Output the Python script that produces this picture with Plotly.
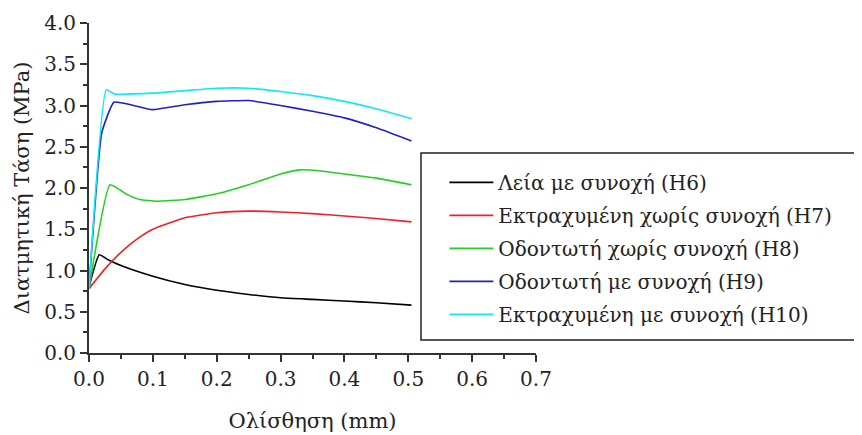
import plotly.graph_objects as go

names = ["Λεία με συνοχή (H6)", "Εκτραχυμένη χωρίς συνοχή (H7)", "Οδοντωτή χωρίς συνοχή (H8)",
         "Οδοντωτή με συνοχή (H9)", "Εκτραχυμένη με συνοχή (H10)"]
colors = ["#000000", "#f0202a", "#22d022", "#2020c8", "#10e8f8"]

h6_x = [0.0, 0.016, 0.03, 0.05, 0.1, 0.15, 0.2, 0.25, 0.3, 0.35, 0.4, 0.45, 0.505]
h6_y = [0.80, 1.19, 1.13, 1.06, 0.93, 0.83, 0.76, 0.71, 0.67, 0.65, 0.63, 0.61, 0.58]

h7_x = [0.0, 0.025, 0.05, 0.075, 0.1, 0.15, 0.2, 0.25, 0.3, 0.35, 0.4, 0.45, 0.505]
h7_y = [0.78, 1.02, 1.22, 1.38, 1.50, 1.64, 1.70, 1.72, 1.71, 1.69, 1.66, 1.63, 1.59]

h8_x = [0.0, 0.033, 0.06, 0.08, 0.106, 0.15, 0.2, 0.25, 0.3, 0.33, 0.36, 0.4, 0.45, 0.505]
h8_y = [0.78, 2.04, 1.92, 1.86, 1.84, 1.86, 1.93, 2.04, 2.17, 2.22, 2.21, 2.17, 2.12, 2.04]

h9_x = [0.0, 0.02, 0.039, 0.07, 0.099, 0.15, 0.2, 0.25, 0.3, 0.35, 0.4, 0.45, 0.505]
h9_y = [0.78, 2.67, 3.04, 3.00, 2.95, 3.01, 3.05, 3.06, 3.00, 2.93, 2.85, 2.73, 2.57]

h10_x = [0.0, 0.027, 0.04, 0.1, 0.15, 0.2, 0.25, 0.3, 0.35, 0.4, 0.45, 0.505]
h10_y = [0.78, 3.19, 3.14, 3.15, 3.18, 3.21, 3.21, 3.17, 3.12, 3.05, 2.96, 2.84]

series = [(h6_x, h6_y), (h7_x, h7_y), (h8_x, h8_y), (h9_x, h9_y), (h10_x, h10_y)]

fig = go.Figure()
for i, ((xs, ys), name, col) in enumerate(zip(series, names, colors)):
    fig.add_trace(go.Scatter(x=xs, y=ys, mode="lines", name=name, legendgroup=f"g{i}",
                             line=dict(color=col, width=1.6, shape="spline", smoothing=0.4)))

font = "DejaVu Serif"
fig.update_layout(
    width=854, height=427,
    margin=dict(l=81, r=326, t=15, b=82, autoexpand=False),
    paper_bgcolor="white", plot_bgcolor="white",
    font=dict(family=font, size=20, color="#222222"),
    showlegend=True,
    legend=dict(x=0.795, y=0.576, xanchor="left", yanchor="top",
                bgcolor="rgba(0,0,0,0)", borderwidth=0, traceorder="grouped",
                font=dict(family=font, size=20, color="#222222"),
                itemwidth=44, tracegroupgap=4),
    xaxis=dict(range=[0, 0.7], tickmode="array", automargin=False,
               tickvals=[0, 0.1, 0.2, 0.3, 0.4, 0.5, 0.6, 0.7],
               ticktext=["0.0", "0.1", "0.2", "0.3", "0.4", "0.5", "0.6", "0.7"],
               ticks="outside", ticklen=7, tickwidth=1.5, tickcolor="#333333",
               showline=True, linecolor="#333333", linewidth=1.8,
               showgrid=False, zeroline=False,
               minor=dict(dtick=0.05, tick0=0, ticks="outside", ticklen=4, tickwidth=1.5, tickcolor="#333333"),
               title=dict(text="Ολίσθηση (mm)", font=dict(family=font, size=21), standoff=23),
               tickfont=dict(family=font, size=20)),
    yaxis=dict(range=[0, 4.0], tickmode="array", automargin=False,
               tickvals=[0, 0.5, 1, 1.5, 2, 2.5, 3, 3.5, 4],
               ticktext=["0.0", "0.5", "1.0", "1.5", "2.0", "2.5", "3.0", "3.5", "4.0"],
               ticks="outside", ticklen=7, tickwidth=1.5, tickcolor="#333333",
               showline=True, linecolor="#333333", linewidth=1.8,
               showgrid=False, zeroline=False,
               minor=dict(dtick=0.25, tick0=0, ticks="outside", ticklen=4, tickwidth=1.5, tickcolor="#333333"),
               title=dict(text="Διατμητική Τάση (MPa)", font=dict(family=font, size=21), standoff=9),
               tickfont=dict(family=font, size=20)),
)

fig.add_shape(type="rect", xref="paper", yref="paper",
              x0=0.7427, x1=1.7248, y0=0.0394, y1=0.606,
              line=dict(color="#222222", width=1.5), fillcolor="rgba(0,0,0,0)")

fig.write_html("out.html")
